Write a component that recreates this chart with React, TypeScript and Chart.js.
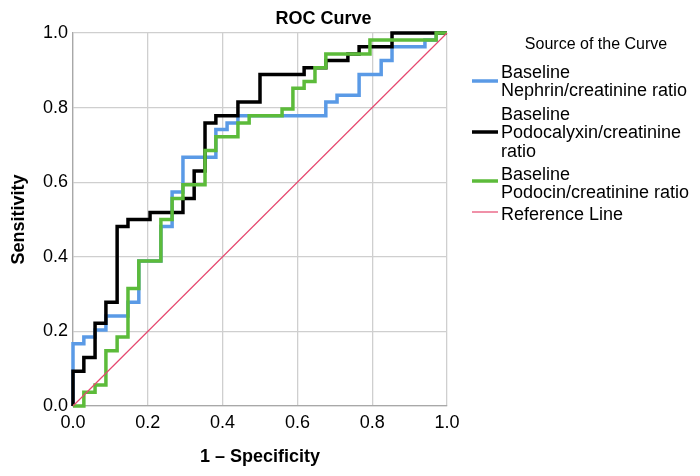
import React, { useEffect, useRef } from 'react';
import { Chart, registerables } from 'chart.js';

Chart.register(...registerables);

// ---- data (corner points of each ROC staircase: vertical rise first, then run to x) ----
const nephrinFpr = [0, 0.029, 0.059, 0.088, 0.147, 0.176, 0.235, 0.265, 0.294, 0.382, 0.412, 0.441, 0.676, 0.706, 0.765, 0.824, 0.853, 0.941, 0.971, 1.0];
const nephrinTpr = [0, 0.167, 0.185, 0.204, 0.241, 0.278, 0.389, 0.481, 0.574, 0.667, 0.741, 0.759, 0.778, 0.815, 0.833, 0.889, 0.926, 0.963, 0.981, 1.0];

const podocalyxinFpr = [0, 0.029, 0.059, 0.088, 0.118, 0.147, 0.206, 0.294, 0.324, 0.353, 0.382, 0.441, 0.5, 0.618, 0.676, 0.735, 0.765, 0.853, 1.0];
const podocalyxinTpr = [0, 0.093, 0.13, 0.222, 0.278, 0.481, 0.5, 0.519, 0.556, 0.63, 0.759, 0.778, 0.815, 0.889, 0.907, 0.926, 0.944, 0.963, 1.0];

const podocinFpr = [0, 0.029, 0.059, 0.088, 0.118, 0.147, 0.176, 0.235, 0.265, 0.294, 0.353, 0.382, 0.441, 0.471, 0.559, 0.588, 0.618, 0.647, 0.676, 0.794, 0.971, 1.0];
const podocinTpr = [0, 0, 0.037, 0.056, 0.148, 0.185, 0.315, 0.389, 0.5, 0.556, 0.593, 0.685, 0.722, 0.759, 0.778, 0.796, 0.852, 0.87, 0.907, 0.944, 0.981, 1.0];

const referenceX = [0, 1];
const referenceY = [0, 1];

const seriesLabels = [
  ['Baseline', 'Nephrin/creatinine ratio'],
  ['Baseline', 'Podocalyxin/creatinine', 'ratio'],
  ['Baseline', 'Podocin/creatinine ratio'],
  ['Reference Line'],
];
const seriesColors = ['#5a9ae6', '#000000', '#5cbb3a', '#e6486f'];
const seriesWidths = [3.5, 3.5, 3.5, 1.2];

const axisTicks = [0, 0.2, 0.4, 0.6, 0.8, 1.0];
const chartTitle = 'ROC Curve';
const legendTitle = 'Source of the Curve';
const xTitle = '1 \u2013 Specificity';
const yTitle = 'Sensitivity';

const FONT = "'Liberation Sans', Arial, sans-serif";

const toPoints = (xs: number[], ys: number[]) => xs.map((x, i) => ({ x, y: ys[i] }));

// layout for custom-drawn title/legend (canvas coords)
const legendLayout = {
  titleX: 588,
  titleY: 37,
  sampleX0: 464,
  sampleX1: 490,
  textX: 493,
  lineGap: 18.5,
  itemTops: [65, 107, 167, 207],
  sampleYs: [73, 124, 173, 204],
};

const overlayPlugin = {
  id: 'overlay',
  afterDraw(chart: any) {
    const ctx = chart.ctx;
    ctx.save();
    ctx.fillStyle = '#000';
    ctx.textBaseline = 'middle';
    ctx.font = `bold 18px ${FONT}`;
    ctx.textAlign = 'center';
    ctx.fillText(chartTitle, 315.5, 11);
    ctx.font = `16px ${FONT}`;
    ctx.fillText(legendTitle, legendLayout.titleX, legendLayout.titleY);
    ctx.textAlign = 'left';
    ctx.font = `18px ${FONT}`;
    seriesLabels.forEach((lines, i) => {
      const sy = legendLayout.sampleYs[i];
      ctx.strokeStyle = seriesColors[i];
      ctx.lineWidth = seriesWidths[i];
      ctx.beginPath();
      ctx.moveTo(legendLayout.sampleX0, sy);
      ctx.lineTo(legendLayout.sampleX1, sy);
      ctx.stroke();
      lines.forEach((t, j) => {
        ctx.fillText(t, legendLayout.textX, legendLayout.itemTops[i] + j * legendLayout.lineGap);
      });
    });
    ctx.restore();
  },
};

export default function App() {
  const canvasRef = useRef<HTMLCanvasElement | null>(null);

  useEffect(() => {
    if (!canvasRef.current) return;
    const tickFont = { size: 18, family: FONT };
    const titleFont = { size: 18, family: FONT, weight: 'bold' as const };
    const mk = (label: string, xs: number[], ys: number[], i: number, stepped: any) => ({
      label,
      data: toPoints(xs, ys),
      borderColor: seriesColors[i],
      borderWidth: seriesWidths[i],
      pointRadius: 0,
      stepped,
      fill: false,
      clip: false as any,
    });
    const chart = new Chart(canvasRef.current, {
      type: 'line',
      data: {
        datasets: [
          mk('Reference Line', referenceX, referenceY, 3, false),
          mk('Podocin', podocinFpr, podocinTpr, 2, 'after'),
          mk('Podocalyxin', podocalyxinFpr, podocalyxinTpr, 1, 'after'),
          mk('Nephrin', nephrinFpr, nephrinTpr, 0, 'after'),
        ] as any,
      },
      options: {
        animation: false,
        responsive: true,
        maintainAspectRatio: false,
        layout: { padding: { left: 0, top: 25, right: 245, bottom: 0 } },
        plugins: {
          legend: { display: false },
          title: { display: false },
          tooltip: { enabled: false },
        },
        scales: {
          x: {
            type: 'linear',
            min: 0,
            max: 1,
            afterBuildTicks: (s: any) => {
              s.ticks = axisTicks.map((v) => ({ value: v }));
            },
            ticks: {
              font: tickFont,
              color: '#000',
              padding: 6,
              maxRotation: 0,
              autoSkip: false,
              callback: (v: any) => Number(v).toFixed(1),
            },
            grid: { color: '#cfcfcf', drawTicks: false, lineWidth: 1.3 },
            border: { color: '#a8a8a8', width: 1.3 },
            title: { display: true, text: xTitle, font: titleFont, color: '#000', padding: 0 },
            afterFit: (s: any) => {
              s.height = 62;
            },
          },
          y: {
            type: 'linear',
            min: 0,
            max: 1,
            afterBuildTicks: (s: any) => {
              s.ticks = axisTicks.map((v) => ({ value: v }));
            },
            ticks: {
              font: tickFont,
              color: '#000',
              padding: 5,
              autoSkip: false,
              callback: (v: any) => Number(v).toFixed(1),
            },
            grid: { color: '#cfcfcf', drawTicks: false, lineWidth: 1.3 },
            border: { color: '#a8a8a8', width: 1.3 },
            title: { display: true, text: yTitle, font: titleFont, color: '#000', padding: 0 },
            afterFit: (s: any) => {
              s.width = 65;
            },
          },
        },
      } as any,
      plugins: [overlayPlugin],
    });
    return () => chart.destroy();
  }, []);

  return (
    <div style={{ position: 'relative', width: '684px', height: '460px' }}>
      <canvas ref={canvasRef} />
    </div>
  );
}
